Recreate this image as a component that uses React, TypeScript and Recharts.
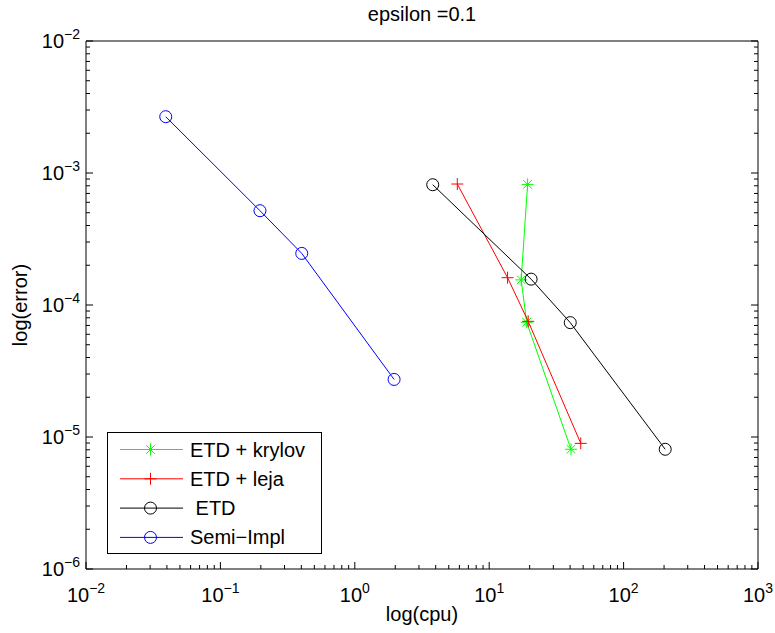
import React from "react"
import { ScatterChart, Scatter, XAxis, YAxis, Legend } from "recharts"

// values (cpu seconds, error)
const krylovCpu = [19.3, 17.3, 19.0, 40.6]
const krylovErr = [8.2e-4, 1.55e-4, 7.4e-5, 8.07e-6]
const lejaCpu = [5.79, 13.7, 19.5, 48.0]
const lejaErr = [8.25e-4, 1.61e-4, 7.52e-5, 8.95e-6]
const etdCpu = [3.8, 20.5, 40.1, 204]
const etdErr = [8.15e-4, 1.57e-4, 7.35e-5, 8.07e-6]
const semiCpu = [0.0392, 0.197, 0.403, 1.96]
const semiErr = [2.67e-3, 5.18e-4, 2.46e-4, 2.73e-5]

const X_MAJOR = [0.01, 0.1, 1, 10, 100, 1000]
const Y_MAJOR = [1e-6, 1e-5, 1e-4, 1e-3, 1e-2]

const FONT = "'Liberation Sans', Arial, Helvetica, sans-serif"
const FS = 20
const FS_EXP = 14

type Shape = "star" | "plus" | "circle"

const SERIES: Array<{ name: string; color: string; shape: Shape; cpu: number[]; err: number[] }> = [
  { name: "ETD + krylov", color: "#00ff00", shape: "star", cpu: krylovCpu, err: krylovErr },
  { name: "ETD + leja", color: "#ff0000", shape: "plus", cpu: lejaCpu, err: lejaErr },
  { name: " ETD", color: "#000000", shape: "circle", cpu: etdCpu, err: etdErr },
  { name: "Semi\u2212Impl", color: "#0000ff", shape: "circle", cpu: semiCpu, err: semiErr },
]

// majors + the 2..9 minors in between
function withMinor(majors: number[]) {
  const out: number[] = []
  majors.forEach((m, i) => {
    out.push(m)
    if (i < majors.length - 1) for (let k = 2; k <= 9; k++) out.push(Number((k * m).toPrecision(2)))
  })
  return out
}
const X_TICKS = withMinor(X_MAJOR)
const Y_TICKS = withMinor(Y_MAJOR)

const isMajor = (v: number) => Math.abs(Math.log10(v) - Math.round(Math.log10(v))) < 1e-6
const expOf = (v: number) => {
  const e = Math.round(Math.log10(v))
  return e < 0 ? "\u2212" + Math.abs(e) : String(e)
}

const MAJ = 7
const MIN = 4

function Marker({ cx, cy, shape, color }: { cx: number; cy: number; shape: Shape; color: string }) {
  if (shape === "circle") return <circle cx={cx} cy={cy} r={6} fill="none" stroke={color} strokeWidth={1} />
  if (shape === "plus")
    return (
      <g stroke={color} strokeWidth={1}>
        <line x1={cx - 6} y1={cy} x2={cx + 6} y2={cy} />
        <line x1={cx} y1={cy - 6} x2={cx} y2={cy + 6} />
      </g>
    )
  return (
    <g stroke={color} strokeWidth={1}>
      <line x1={cx - 6} y1={cy} x2={cx + 6} y2={cy} />
      <line x1={cx} y1={cy - 6} x2={cx} y2={cy + 6} />
      <line x1={cx - 4.3} y1={cy - 4.3} x2={cx + 4.3} y2={cy + 4.3} />
      <line x1={cx - 4.3} y1={cy + 4.3} x2={cx + 4.3} y2={cy - 4.3} />
    </g>
  )
}

function BottomTick(p: any) {
  const v = p.payload.value
  const len = isMajor(v) ? MAJ : MIN
  return (
    <g>
      <line x1={p.x} y1={p.y} x2={p.x} y2={p.y - len} stroke="#000" />
      {isMajor(v) && (
        <text x={p.x} y={p.y + 33} textAnchor="middle" fontSize={FS} fill="#000" fontFamily={FONT}>
          10
          <tspan dy={-9} fontSize={FS_EXP}>{expOf(v)}</tspan>
        </text>
      )}
    </g>
  )
}
function TopTick(p: any) {
  const len = isMajor(p.payload.value) ? MAJ : MIN
  return <line x1={p.x} y1={p.y} x2={p.x} y2={p.y + len} stroke="#000" />
}
function LeftTick(p: any) {
  const v = p.payload.value
  const len = isMajor(v) ? MAJ : MIN
  return (
    <g>
      <line x1={p.x} y1={p.y} x2={p.x + len} y2={p.y} stroke="#000" />
      {isMajor(v) && (
        <text x={p.x - 6} y={p.y + 7} textAnchor="end" fontSize={FS} fill="#000" fontFamily={FONT}>
          10
          <tspan dy={-9} fontSize={FS_EXP}>{expOf(v)}</tspan>
        </text>
      )}
    </g>
  )
}
function RightTick(p: any) {
  const len = isMajor(p.payload.value) ? MAJ : MIN
  return <line x1={p.x} y1={p.y} x2={p.x - len} y2={p.y} stroke="#000" />
}

function LegendBox() {
  return (
    <svg width={215} height={122} style={{ display: "block" }}>
      <rect x={0.5} y={0.5} width={214} height={121} fill="#fff" stroke="#000" />
      {SERIES.map((s, i) => {
        const cy = 17.5 + i * 29.3
        return (
          <g key={s.name}>
            <line x1={13} y1={cy} x2={76} y2={cy} stroke={s.color} />
            <Marker cx={43.5} cy={cy} shape={s.shape} color={s.color} />
            <text x={83} y={cy + 7} fontSize={FS} fontFamily={FONT} fill="#000" style={{ whiteSpace: "pre" }}>
              {s.name}
            </text>
          </g>
        )
      })}
    </svg>
  )
}

export default function App() {
  return (
    <div style={{ position: "absolute", left: 0, top: 0, background: "#fff" }}>
      <ScatterChart width={775} height={633} margin={{ top: 0, right: 0, bottom: 0, left: 0 }} style={{ fontFamily: FONT }}>
        <XAxis
          xAxisId="b"
          type="number"
          dataKey="cpu"
          scale="log"
          domain={[0.01, 1000]}
          ticks={X_TICKS}
          interval={0}
          height={64}
          tickSize={0}
          tickMargin={0}
          tickLine={false}
          tick={<BottomTick />}
          axisLine={{ stroke: "#000" }}
          allowDataOverflow
          label={{ value: "log(cpu)", position: "insideBottom", offset: 12, fontSize: FS, fill: "#000" }}
        />
        <XAxis
          xAxisId="t"
          orientation="top"
          type="number"
          scale="log"
          domain={[0.01, 1000]}
          ticks={X_TICKS}
          interval={0}
          height={41}
          tickSize={0}
          tickMargin={0}
          tickLine={false}
          tick={<TopTick />}
          axisLine={{ stroke: "#000" }}
          allowDataOverflow
          label={{ value: "epsilon =0.1", position: "insideTop", offset: 7, fontSize: FS, fill: "#000" }}
        />
        <YAxis
          yAxisId="l"
          type="number"
          dataKey="err"
          scale="log"
          domain={[1e-6, 1e-2]}
          ticks={Y_TICKS}
          interval={0}
          width={86}
          tickSize={0}
          tickMargin={0}
          tickLine={false}
          tick={<LeftTick />}
          axisLine={{ stroke: "#000" }}
          allowDataOverflow
          label={{ value: "log(error)", angle: -90, position: "insideLeft", offset: 20, fontSize: FS, fill: "#000", style: { textAnchor: "middle" } }}
        />
        <YAxis
          yAxisId="r"
          orientation="right"
          type="number"
          scale="log"
          domain={[1e-6, 1e-2]}
          ticks={Y_TICKS}
          interval={0}
          width={17}
          tickSize={0}
          tickMargin={0}
          tickLine={false}
          tick={<RightTick />}
          axisLine={{ stroke: "#000" }}
          allowDataOverflow
        />
        {SERIES.map((s) => (
          <Scatter
            key={s.name}
            name={s.name}
            xAxisId="b"
            yAxisId="l"
            data={s.cpu.map((c, i) => ({ cpu: c, err: s.err[i] }))}
            line={{ stroke: s.color, strokeWidth: 1 }}
            lineType="joint"
            shape={(p: any) => <Marker cx={p.cx} cy={p.cy} shape={s.shape} color={s.color} />}
            isAnimationActive={false}
          />
        ))}
        <Legend
          layout="vertical"
          align="center"
          verticalAlign="middle"
          content={() => <LegendBox />}
          wrapperStyle={{ left: 107, top: 432, width: 215, height: 122 }}
        />
      </ScatterChart>
    </div>
  )
}
